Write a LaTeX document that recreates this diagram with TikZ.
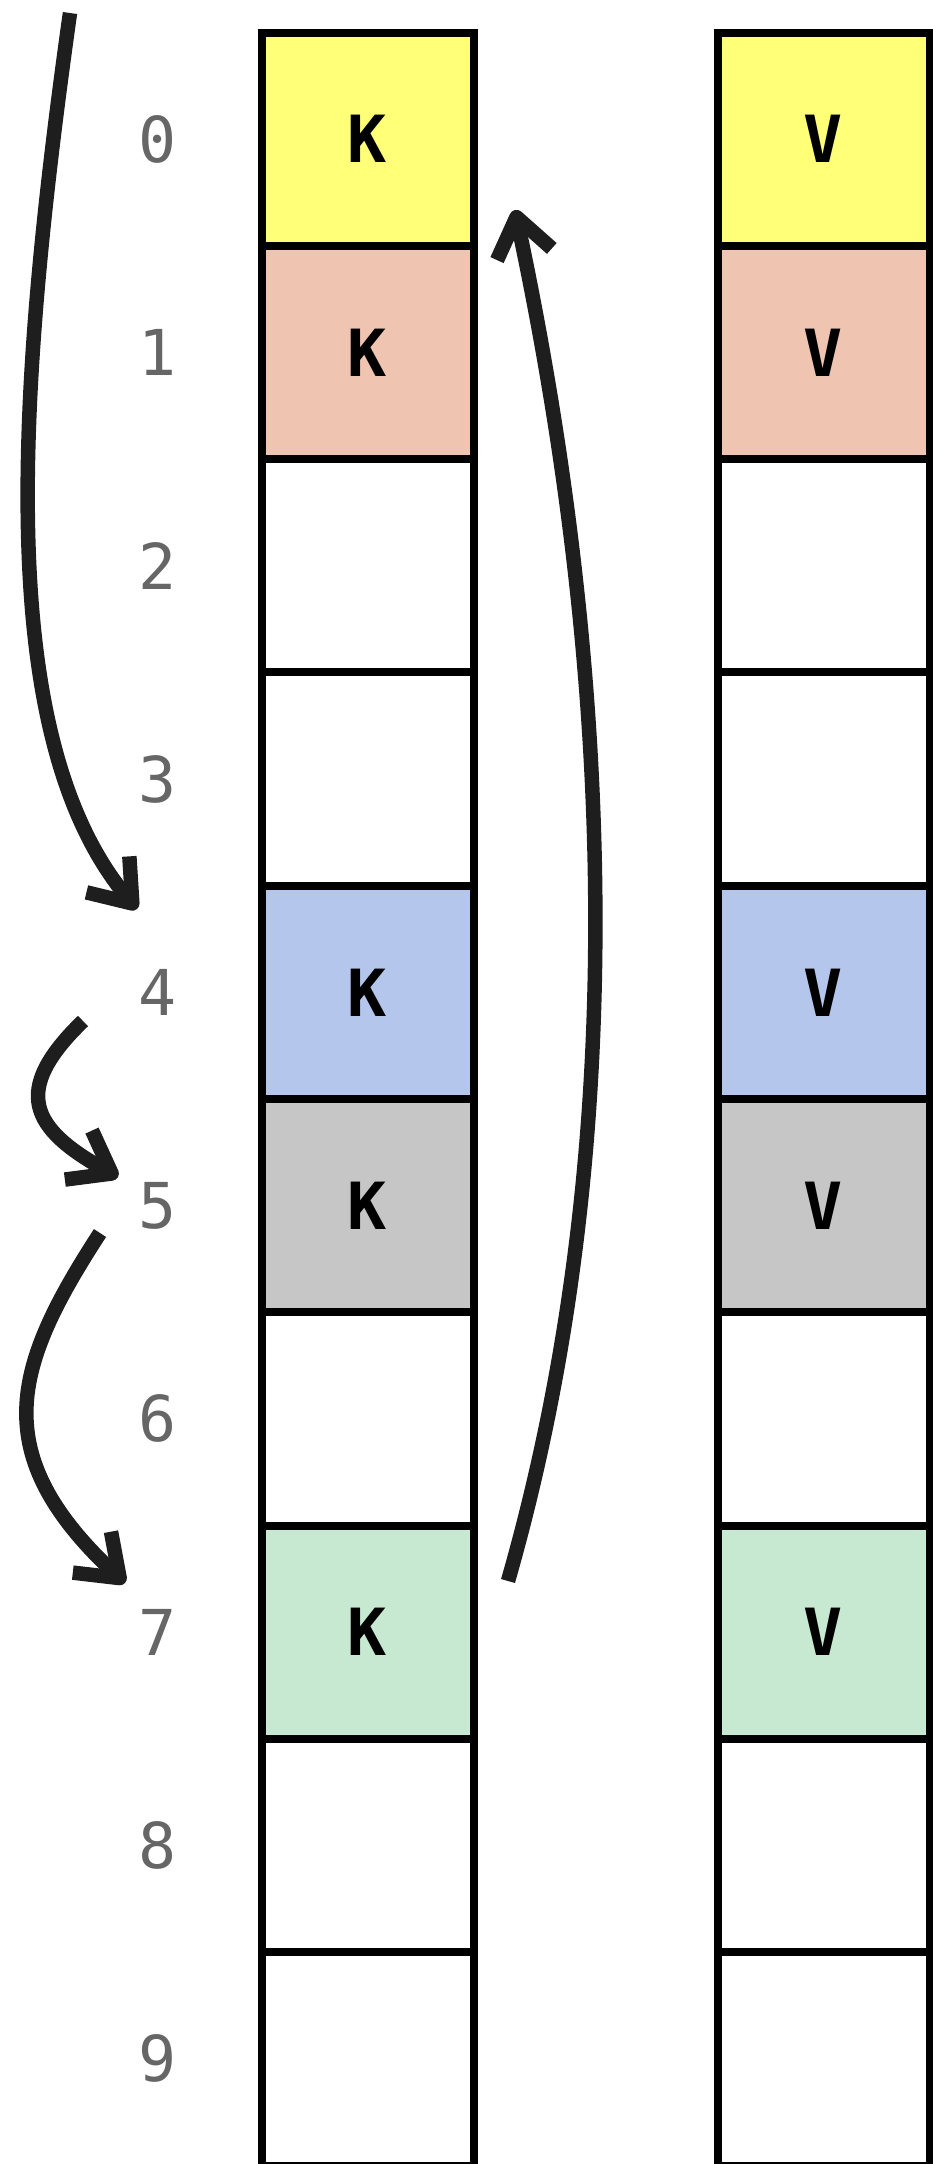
\documentclass[tikz,border=0pt]{standalone}
\usepackage{fontspec}
\setmonofont{DejaVu Sans Mono}
\usetikzlibrary{arrows.meta}

\definecolor{slotyellow}{HTML}{FFFF78}
\definecolor{slotsalmon}{HTML}{EFC4B0}
\definecolor{slotblue}{HTML}{B5C6ED}
\definecolor{slotgray}{HTML}{C6C6C6}
\definecolor{slotgreen}{HTML}{C7E9D1}
\definecolor{idxgray}{HTML}{666666}
\definecolor{ink}{HTML}{1E1E1E}

\begin{document}
\begin{tikzpicture}[
    slot/.style={draw=black, line width=0.08cm, minimum width=2.12cm, minimum height=2.133cm,
      inner sep=0pt, font=\ttfamily\bfseries\fontsize{18.5}{20}\selectfont},
    idx/.style={text=idxgray, font=\ttfamily\fontsize{18}{20}\selectfont},
    hop/.style={draw=ink, line width=0.145cm,
      -{Straight Barb[length=0.38cm, width=0.56cm, line cap=butt, line join=round]}}
  ]
        \useasboundingbox (0,0) rectangle (9.33,-21.64);

          % empty slots
          \foreach \i in {2,3,6,8,9}{
            \node[slot, fill=white] (k\i) at (3.675,-1.3915-2.133*\i) {};
            \node[slot, fill=white] (v\i) at (8.235,-1.3915-2.133*\i) {};
          }

          % used slots
          \foreach \i/\c in {0/slotyellow,1/slotsalmon,4/slotblue,5/slotgray,7/slotgreen}{
            \node[slot, fill=\c] (k\i) at (3.675,-1.3915-2.133*\i) {K};
            \node[slot, fill=\c] (v\i) at (8.235,-1.3915-2.133*\i) {V};
          }

          \foreach \i in {0,...,9}
            \node[idx] (n\i) at (1.575,-1.3915-2.133*\i) {\i};

          \coordinate (s1) at (0.70,-0.13);
          \coordinate (e1) at (1.37,-9.09);
          \coordinate (s2) at (0.83,-10.21);
          \coordinate (e2) at (1.18,-11.77);
          \coordinate (s3) at (1.00,-12.33);
          \coordinate (e3) at (1.25,-15.83);
          \coordinate (s4) at (5.08,-15.81);
          \coordinate (e4) at (5.15,-2.10);

          \draw[hop] (s1) .. controls +(262:4) and +(130:2.2) .. (e1);
          \draw[hop] (s2) .. controls +(224:1) and +(151:1) .. (e2);
          \draw[hop] (s3) .. controls +(237:1.6) and +(137:1.9) .. (e3);
          \draw[hop] (s4) .. controls +(74:4.6) and +(282:4.6) .. (e4);
        \end{tikzpicture}
\end{document}
